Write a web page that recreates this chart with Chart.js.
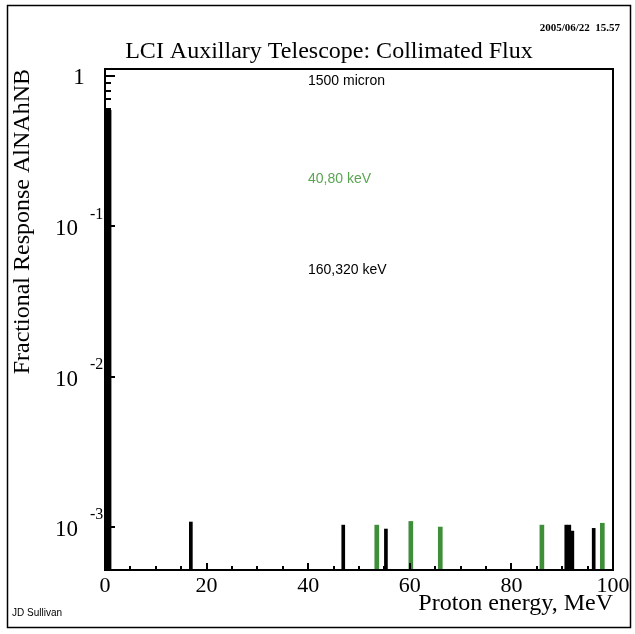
<!DOCTYPE html>
<html>
<head>
<meta charset="utf-8">
<title>LCI Auxillary Telescope: Collimated Flux</title>
<script src="https://cdn.jsdelivr.net/npm/chart.js@4.4.1/dist/chart.umd.min.js"></script>
<style>
  html, body { margin: 0; padding: 0; background: #fff; }
  canvas { display: block; }
</style>
</head>
<body>
<canvas id="fluxChart" width="635" height="634"></canvas>
<script>
// --- data ---
const energyBlack = [0.3, 0.9, 16.9, 46.9, 55.3, 90.8, 91.4, 92.0, 96.2];
const responseBlack = [0.59, 0.59, 1.08e-3, 1.03e-3, 0.97e-3, 1.03e-3, 1.03e-3, 0.94e-3, 0.98e-3];
const energyGreen = [53.5, 60.2, 66.0, 86.0, 97.9];
const responseGreen = [1.03e-3, 1.09e-3, 1.0e-3, 1.03e-3, 1.06e-3];

const xTickLabels = [0, 20, 40, 60, 80, 100];
const xMinorStep = 5;
const yRange = [5.18e-4, 1.113];

const GREEN_BAR = "#3f8f3a";
const GREEN_TEXT = "#5aa552";
const SERIF = "'Liberation Serif', 'DejaVu Serif', serif";
const SANS = "'Liberation Sans', Arial, sans-serif";

function toPoints(xs, ys) {
  return xs.map((x, i) => ({ x: x, y: ys[i] }));
}

function isDecade(v) {
  const l = Math.log10(v);
  return Math.abs(l - Math.round(l)) < 1e-9;
}

// inner tick marks, frame and loose text
const decorPlugin = {
  id: "decor",
  afterDraw(chart) {
    const ctx = chart.ctx;
    const area = chart.chartArea;
    const xs = chart.scales.x;
    const ys = chart.scales.y;

    ctx.save();
    ctx.strokeStyle = "#000";
    ctx.fillStyle = "#000";

    // outer page border
    ctx.lineWidth = 1.5;
    ctx.strokeRect(7.5, 5.5, 623, 622);

    // plot frame
    ctx.lineWidth = 2;
    ctx.strokeRect(area.left, area.top, area.right - area.left, area.bottom - area.top);

    // y ticks pointing inward
    ctx.lineWidth = 2;
    ys.ticks.forEach((t) => {
      const v = t.value;
      const mant = v / Math.pow(10, Math.floor(Math.log10(v) + 1e-9));
      if (Math.abs(mant - Math.round(mant)) > 1e-6) return;
      const py = Math.round(ys.getPixelForValue(v));
      if (py < area.top || py > area.bottom) return;
      const len = isDecade(v) ? 10 : 6;
      ctx.beginPath();
      ctx.moveTo(area.left, py);
      ctx.lineTo(area.left + len, py);
      ctx.stroke();
    });

    // x ticks pointing inward
    for (let v = xs.min + xMinorStep; v < xs.max; v += xMinorStep) {
      const px = Math.round(xs.getPixelForValue(v));
      const len = xTickLabels.includes(v) ? 7 : 4;
      ctx.beginPath();
      ctx.moveTo(px, area.bottom);
      ctx.lineTo(px, area.bottom - len);
      ctx.stroke();
    }

    // y decade labels with superscript exponent
    ctx.textBaseline = "middle";
    ys.ticks.forEach((t) => {
      if (!isDecade(t.value)) return;
      const py = ys.getPixelForValue(t.value);
      const exp = Math.round(Math.log10(t.value));
      if (exp === 0) {
        ctx.font = "23px " + SERIF;
        ctx.textAlign = "center";
        ctx.fillText("1", 79, py + 2);
      } else {
        ctx.font = "23px " + SERIF;
        ctx.textAlign = "left";
        ctx.fillText("10", 55, py + 3);
        ctx.font = "16px " + SERIF;
        ctx.fillText(String(exp), 90, py - 12);
      }
    });

    // axis titles
    ctx.font = "24px " + SERIF;
    ctx.textAlign = "right";
    ctx.textBaseline = "alphabetic";
    ctx.fillText("Proton energy, MeV", area.right, 610);

    ctx.save();
    ctx.translate(29, area.top);
    ctx.rotate(-Math.PI / 2);
    ctx.textAlign = "right";
    ctx.fillText("Fractional Response AlNAhNB", 0, 0);
    ctx.restore();

    // title and stamp
    ctx.textAlign = "center";
    ctx.font = "24px " + SERIF;
    ctx.fillText("LCI Auxillary Telescope: Collimated Flux", 329, 58);

    ctx.font = "bold 11px " + SERIF;
    ctx.textAlign = "right";
    ctx.fillText("2005/06/22  15.57", 620, 31);

    // annotations inside the plot
    ctx.font = "14px " + SANS;
    ctx.textAlign = "left";
    ctx.textBaseline = "middle";
    ctx.fillText("1500 micron", 308, 81);
    ctx.fillStyle = GREEN_TEXT;
    ctx.fillText("40,80 keV", 308, 179);
    ctx.fillStyle = "#000";
    ctx.fillText("160,320 keV", 308, 270);

    ctx.font = "10px " + SANS;
    ctx.fillText("JD Sullivan", 12, 613);

    ctx.restore();
  },
};

const chart = new Chart(document.getElementById("fluxChart"), {
  type: "bar",
  data: {
    datasets: [
      {
        label: "160,320 keV",
        data: toPoints(energyBlack, responseBlack),
        backgroundColor: "#000",
        barThickness: 3,
        borderWidth: 0,
      },
      {
        label: "40,80 keV",
        data: toPoints(energyGreen, responseGreen),
        backgroundColor: GREEN_BAR,
        barThickness: 4,
        borderWidth: 0,
      },
    ],
  },
  options: {
    responsive: false,
    animation: false,
    devicePixelRatio: 1,
    layout: { padding: { top: 69, right: 22, bottom: 0, left: 0 } },
    datasets: { bar: { grouped: false } },
    plugins: {
      legend: { display: false },
      tooltip: { enabled: false },
      title: { display: false },
    },
    scales: {
      x: {
        type: "linear",
        min: 0,
        max: 100,
        offset: false,
        grid: { display: false, drawTicks: false },
        border: { display: false },
        afterFit: (s) => { s.height = 64; },
        afterBuildTicks: (s) => { s.ticks = xTickLabels.map((v) => ({ value: v })); },
        ticks: {
          color: "#000",
          padding: 3,
          maxRotation: 0,
          autoSkip: false,
          font: { family: SERIF, size: 22 },
        },
      },
      y: {
        type: "logarithmic",
        min: yRange[0],
        max: yRange[1],
        grid: { display: false, drawTicks: false },
        border: { display: false },
        afterFit: (s) => { s.width = 105; },
        ticks: { display: false, autoSkip: false },
      },
    },
  },
  plugins: [decorPlugin],
});
</script>
</body>
</html>
